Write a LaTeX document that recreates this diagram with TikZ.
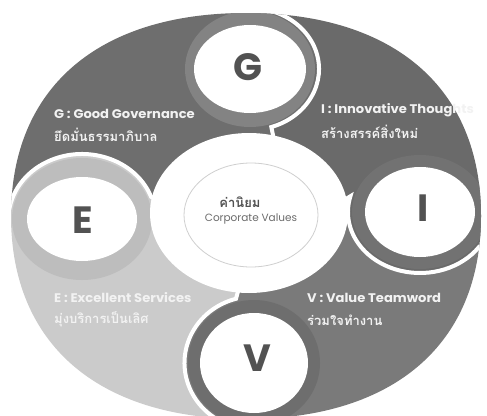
\documentclass[tikz,border=0pt]{standalone}
\usepackage{fontspec}
\setmainfont{Poppins}
\newfontfamily\thai[Script=Thai]{Loma}
\usetikzlibrary{calc}
\definecolor{regG}{HTML}{6E6E6E}
\definecolor{ringG}{HTML}{838383}
\definecolor{regI}{HTML}{6A6A6A}
\definecolor{ringI}{HTML}{727272}
\definecolor{regV}{HTML}{7A7A7A}
\definecolor{ringV}{HTML}{6E6E6E}
\definecolor{regE}{HTML}{CBCBCB}
\definecolor{ringE}{HTML}{BDBDBD}
\definecolor{letterc}{HTML}{525252}
\definecolor{labc}{HTML}{F2F2F2}
\definecolor{outlc}{HTML}{CFCFCF}
\tikzset{
  sep/.style={draw=white, line width=4pt},
  letterstyle/.style={font=\fontsize{38}{38}\selectfont\bfseries, text=letterc, inner sep=0pt},
  lab/.style={font=\fontsize{12.5}{13}\selectfont\bfseries, text=labc, inner sep=0pt, anchor=west, xscale=1.05},
  tlab/.style={font=\fontsize{13}{14}\selectfont\thai\bfseries, text=labc, inner sep=0pt, anchor=west},
}
\begin{document}
\begin{tikzpicture}[x=1pt,y=1pt]
\useasboundingbox (0,0) rectangle (487,-415);
\coordinate (C) at (249,-213);
\coordinate (cG) at (250,-69);
\coordinate (cI) at (420,-212);
\coordinate (cE) at (82,-219);
\coordinate (cV) at (254,-363);
% separator G
\coordinate (DG) at (274,-140);
\coordinate (AG) at ($(cG)+(-72:69 and 61)$);
\coordinate (BG) at ($(cG)+(75:69 and 61)$);
\coordinate (OG) at (272,10);
% separator I
\coordinate (DI) at (336,-205);
\coordinate (AI) at ($(cI)+(165:72 and 61)$);
\coordinate (BI) at ($(cI)+(325:72 and 61)$);
\coordinate (OI) at (510,-262);
% separator V
\coordinate (DV) at (240,-284);
\coordinate (AV) at ($(cV)+(105:69.5 and 66.5)$);
\coordinate (BV) at ($(cV)+(255:69.5 and 66.5)$);
\coordinate (OV) at (228,-450);
% separator E
\coordinate (DE) at (165,-205);
\coordinate (AE) at ($(cE)+(20:73.5 and 65)$);
\coordinate (BE) at ($(cE)+(170:73.5 and 65)$);
\coordinate (OE) at (-20,-206);
\begin{scope}
\clip (246,-13) .. controls (394,-13) and (481,-88) .. (481,-216)
  .. controls (481,-344) and (394,-419) .. (246,-419)
  .. controls (98,-419) and (11,-344) .. (11,-216)
  .. controls (11,-88) and (98,-13) .. (246,-13) -- cycle;
% regions
\fill[regG] (C) -- (DE) -- (AE) arc[start angle=20,end angle=170,x radius=73.5,y radius=65] -- (OE) -- (-40,-206) -- (-40,40) -- (272,40) -- (OG) -- (BG) arc[start angle=75,end angle=-72,x radius=69,y radius=61] -- (DG) -- cycle;
\fill[regI] (C) -- (DG) -- (AG) arc[start angle=-72,end angle=75,x radius=69,y radius=61] -- (OG) -- (272,40) -- (530,40) -- (530,-262) -- (OI) -- (BI) arc[start angle=325,end angle=165,x radius=72,y radius=61] -- (DI) -- cycle;
\fill[regV] (C) -- (DI) -- (AI) arc[start angle=165,end angle=325,x radius=72,y radius=61] -- (OI) -- (530,-262) -- (530,-470) -- (225,-470) -- (OV) -- (BV) arc[start angle=255,end angle=105,x radius=69.5,y radius=66.5] -- (DV) -- cycle;
\fill[regE] (C) -- (DV) -- (AV) arc[start angle=105,end angle=255,x radius=69.5,y radius=66.5] -- (OV) -- (225,-470) -- (-40,-470) -- (-40,-206) -- (OE) -- (BE) arc[start angle=170,end angle=20,x radius=73.5,y radius=65] -- (DE) -- cycle;
% rings
\fill[ringG] (cG) ellipse [x radius=65, y radius=58];
\fill[ringI] (cI) ellipse [x radius=68, y radius=57];
\fill[ringE] (cE) ellipse [x radius=70, y radius=61];
\fill[ringV] (cV) ellipse [x radius=66, y radius=63];
% separators
\draw[sep] (DG) -- (AG) arc[start angle=-72,end angle=75,x radius=69,y radius=61] -- (OG);
\draw[sep] (DI) -- (AI) arc[start angle=165,end angle=325,x radius=72,y radius=61] -- (OI);
\draw[sep] (DV) -- (AV) arc[start angle=105,end angle=255,x radius=69.5,y radius=66.5] -- (OV);
\draw[sep] (DE) -- (AE) arc[start angle=20,end angle=170,x radius=73.5,y radius=65] -- (OE);
% white disks
\fill[white] (cG) ellipse [x radius=56, y radius=44];
\fill[white] (cI) ellipse [x radius=55, y radius=45];
\fill[white] (cE) ellipse [x radius=55, y radius=42];
\fill[white] (cV) ellipse [x radius=54, y radius=50];
% center disk
\fill[white] (C) ellipse [x radius=99, y radius=80];
\draw[outlc, line width=0.8pt] (251,-215) ellipse [x radius=67, y radius=52];
\end{scope}
% letters
\node[letterstyle] (lG) at (248,-67) {G};
\node[letterstyle] (lI) at (423,-208) {I};
\node[letterstyle] (lE) at (83,-220) {E};
\node[letterstyle] (lV) at (257,-358) {V};
% center text
\node[font=\fontsize{13}{13}\selectfont\thai\bfseries, text=letterc, inner sep=0pt] (ct1) at (240,-202) {ค่านิยม};
\node[font=\fontsize{10.5}{11}\selectfont, text=letterc!85, inner sep=0pt] (ct2) at (251,-219) {Corporate Values};
% labels
\node[lab] (g1) at (54,-114) {G : Good Governance};
\node[tlab] (g2) at (54,-135) {ยึดมั่นธรรมาภิบาล};
\node[lab] (i1) at (321,-110) {I : Innovative Thoughts};
\node[tlab] (i2) at (321,-132) {สร้างสรรค์สิ่งใหม่};
\node[lab] (e1) at (54,-298) {E : Excellent Services};
\node[tlab] (e2) at (54,-319) {มุ่งบริการเป็นเลิศ};
\node[lab] (v1) at (307,-298) {V : Value Teamword};
\node[tlab] (v2) at (307,-320) {ร่วมใจทำงาน};
\end{tikzpicture}
\end{document}
